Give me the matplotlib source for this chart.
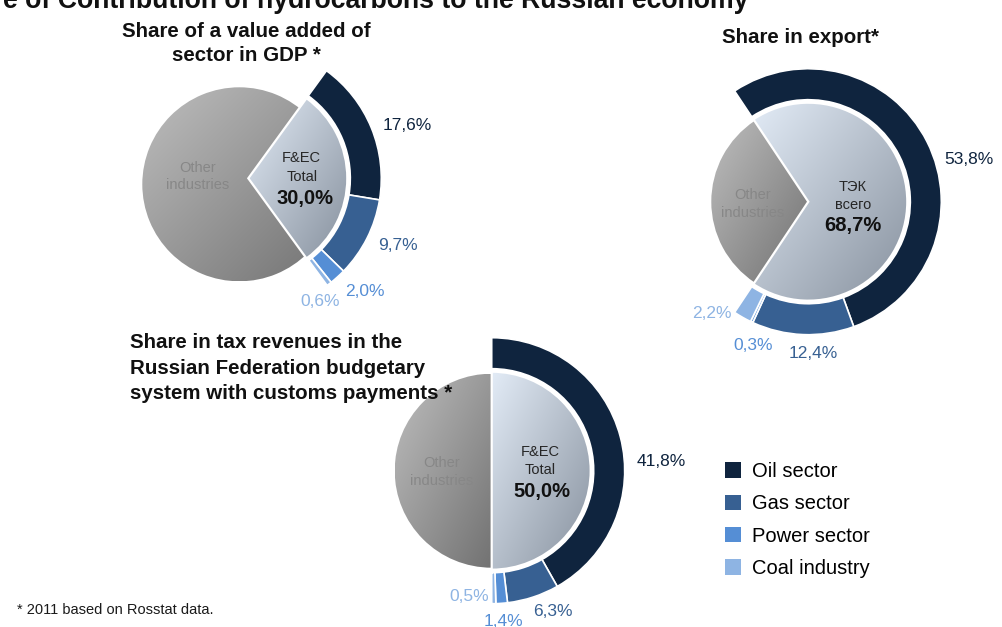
import numpy as np
import matplotlib
matplotlib.use("Agg")
import matplotlib.pyplot as plt
from matplotlib.colors import to_rgb
from matplotlib.patches import Patch

plt.rcParams['font.family'] = ['Liberation Sans', 'DejaVu Sans']

# ---------------- data ----------------
chart_titles = ["Share of a value added of\nsector in GDP *",
                "Share in export*",
                "Share in tax revenues in the\nRussian Federation budgetary\nsystem with customs payments *"]
sectors = ["Oil sector", "Gas sector", "Power sector", "Coal industry"]
oil = [17.6, 53.8, 41.8]
gas = [9.7, 12.4, 6.3]
power = [2.0, 0.3, 1.4]
coal = [0.6, 2.2, 0.5]
fec_total = [30.0, 68.7, 50.0]
center_names = [("F&EC", "Total"), ("ТЭК", "всего"), ("F&EC", "Total")]
other_label = "Other\nindustries"
page_title = "e of Contribution of hydrocarbons to the Russian economy"
footnote = "* 2011 based on Rosstat data."

# ---------------- style / layout ----------------
sector_colors = ['#0f243e', '#376092', '#558ed5', '#8eb4e3']
grey_c1, grey_c2 = '#bebebe', '#727272'
fec_c1, fec_c2 = '#e2ebf6', '#87919e'

W, H, DPI = 1003, 627, 100
centers = [(248.3, 178.3), (808.3, 201.7), (491.7, 470.7)]
grey_offsets = [(-9, -6), (0, 0), (0, 0)]
grey_full = [True, False, False]
R_IN, R_GREY, R_OUT, RING_W = 99, 97, 133, 31
S = 150

label_pos = [
    [(407, 126), (398, 245), (365, 291.7), (320, 301.7)],
    [(969, 160), (813, 353), (753, 345), (711.7, 313.3)],
    [(661, 461), (553, 611.7), (503, 621), (469, 596.7)],
]
center_pos = [
    [(301.7, 158), (302, 176.7), (305, 198.3)],
    [(853, 186.7), (853, 205), (853, 225)],
    [(540, 451.7), (540, 470), (541.7, 491.7)],
]
other_pos = [(198, 176.5), (753, 204), (441.7, 472)]

fig = plt.figure(figsize=(W / DPI, H / DPI), dpi=DPI)
fig.patch.set_facecolor('white')


def ftext(x, y, s, **kw):
    return fig.text(x / W, 1 - y / H, s, **kw)


def fmt(v):
    return f"{v:.1f}".replace('.', ',') + '%'


def wedge_bbox(w):
    th = np.radians(np.linspace(w.theta1, w.theta2, 400))
    cx, cy = w.center
    xs = np.concatenate([cx + w.r * np.cos(th), [cx]])
    ys = np.concatenate([cy + w.r * np.sin(th), [cy]])
    return [xs.min(), xs.max(), ys.min(), ys.max()]


def grad(ax, wedge, c1, c2, z, ext=None):
    if ext is None:
        ext = wedge_bbox(wedge)
    n = 200
    g = np.linspace(0, 1, n)
    X, Y = np.meshgrid(g, g)
    t = ((X + (1 - Y)) / 2)[..., None]
    img = np.array(to_rgb(c1))[None, None, :] * (1 - t) + np.array(to_rgb(c2))[None, None, :] * t
    im = ax.imshow(img, extent=ext, origin='lower',
                   zorder=z, interpolation='bilinear', aspect='auto')
    im.set_clip_path(wedge)


for i in range(3):
    cx, cy = centers[i]
    ax = fig.add_axes([(cx - S) / W, 1 - (cy + S) / H, 2 * S / W, 2 * S / H])
    tot = fec_total[i]
    other = 100 - tot
    start = tot * 1.8

    # grey "other industries"
    if grey_full[i]:
        # drawn as a full disc behind the exploded F&EC wedge
        gw, _ = ax.pie([other + tot], startangle=start, counterclock=False, radius=R_GREY,
                       center=grey_offsets[i], colors=['none'],
                       wedgeprops=dict(edgecolor='none', linewidth=0))
        grad(ax, gw[0], grey_c1, grey_c2, 1.0)
    else:
        gw, _ = ax.pie([tot, other], startangle=start, counterclock=False, radius=R_GREY,
                       center=grey_offsets[i], colors=['none', 'none'],
                       wedgeprops=dict(edgecolor='none', linewidth=0))
        grad(ax, gw[1], grey_c1, grey_c2, 1.0)
    for w in gw:
        w.set_zorder(1.1)

    # F&EC total
    fw, _ = ax.pie([tot, other], startangle=start, counterclock=False, radius=R_IN,
                   colors=['none', 'none'],
                   wedgeprops=dict(edgecolor='white', linewidth=1.6))
    fw[1].set_visible(False)
    fw[0].set_zorder(2.1)
    grad(ax, fw[0], fec_c1, fec_c2, 2.0)

    # outer ring by sector
    vals = [oil[i], gas[i], power[i], coal[i]]
    rest = 100 - sum(vals)
    rw, _ = ax.pie(vals + [rest], startangle=start, counterclock=False, radius=R_OUT,
                   colors=sector_colors + ['none'],
                   wedgeprops=dict(width=RING_W, edgecolor='white', linewidth=1.2))
    rw[-1].set_visible(False)
    for w in rw:
        w.set_zorder(3)

    ax.set_xlim(-S, S)
    ax.set_ylim(-S, S)
    ax.set_aspect('auto')
    ax.axis('off')

    # labels
    for k, v in enumerate(vals):
        x, y = label_pos[i][k]
        ftext(x, y, fmt(v), ha='center', va='center', fontsize=12.5, color=sector_colors[k])
    (x1, y1), (x2, y2), (x3, y3) = center_pos[i]
    ftext(x1, y1, center_names[i][0], ha='center', va='center', fontsize=10.5, color='#262626')
    ftext(x2, y2, center_names[i][1], ha='center', va='center', fontsize=10.5, color='#262626')
    ftext(x3, y3, fmt(tot), ha='center', va='center', fontsize=14.5, fontweight='bold', color='#111111')
    ox, oy = other_pos[i]
    ftext(ox, oy, other_label, ha='center', va='center', fontsize=10.5, color='#878787',
          linespacing=1.3)

# chart titles
ftext(246.7, 43.4, chart_titles[0], ha='center', va='center', fontsize=14.8,
      fontweight='bold', color='#111111', linespacing=1.3)
ftext(801, 37.5, chart_titles[1], ha='center', va='center', fontsize=14.8,
      fontweight='bold', color='#111111')
ftext(130, 368, chart_titles[2], ha='left', va='center', fontsize=14.8,
      fontweight='bold', color='#111111', linespacing=1.45)

# page title (cut off at top)
ftext(748, 8.5, page_title, ha='right', va='baseline', fontsize=19.2,
      fontweight='bold', color='#111111')

# legend
handles = [Patch(facecolor=c, edgecolor='none') for c in sector_colors]
fig.legend(handles, sectors, loc='upper left', bbox_to_anchor=(725 / W, 1 - 462 / H),
           frameon=False, fontsize=14.5, handlelength=0.8, handleheight=0.8,
           handletextpad=0.55, labelspacing=0.66, borderpad=0, borderaxespad=0)

ftext(17, 610, footnote, ha='left', va='center', fontsize=10.5, color='#1a1a1a')

fig.savefig('out.png', dpi=DPI, facecolor='white')
